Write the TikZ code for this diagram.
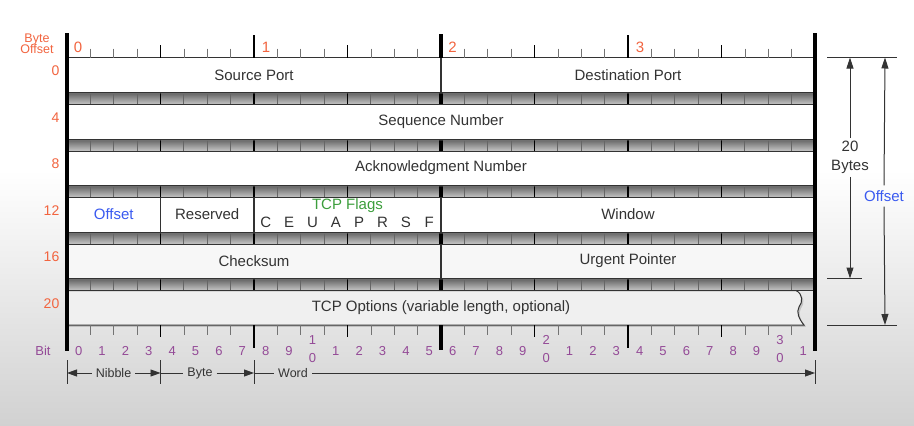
\documentclass[tikz,border=0pt]{standalone}
\usepackage{fontspec}
\setmainfont{Liberation Sans}
\usetikzlibrary{arrows.meta,shadows}

\definecolor{offorange}{HTML}{F2643F}
\definecolor{bitpurple}{HTML}{944A97}
\definecolor{flaggreen}{HTML}{3C9E3C}
\definecolor{offblue}{HTML}{3A5AF0}
\definecolor{ink}{HTML}{333333}

\tikzset{
  fieldfont/.style={font=\fontsize{15}{18}\selectfont, text=ink},
  field/.style={fieldfont, inner sep=0pt},
  rowbox/.style={draw=ink, line width=1pt, fill=white,
    drop shadow={shadow xshift=1.8pt, shadow yshift=-1.8pt, opacity=0.35}},
  bittick/.style={line width=0.7pt, draw=black!55},
  bandtick/.style={line width=0.9pt, draw=black!60},
  nibtick/.style={line width=1.7pt, draw=black},
  bytetick/.style={line width=2.5pt, draw=black},
  midtick/.style={line width=3.8pt, draw=black},
  edgeline/.style={line width=3.8pt, draw=black},
  offnum/.style={font=\fontsize{14}{16}\selectfont, text=offorange, inner sep=0pt, anchor=east},
  bytenum/.style={font=\fontsize{15}{16}\selectfont, text=offorange, inner sep=0pt},
  bitnum/.style={font=\fontsize{13}{14}\selectfont, text=bitpurple, inner sep=0pt},
  dimlabel/.style={font=\fontsize{12.5}{14}\selectfont, text=ink, inner xsep=4pt, inner ysep=0pt},
  dimline/.style={draw=ink, line width=0.9pt},
  dimarrow/.style={dimline, -{Triangle[length=10pt,width=7pt]}},
  sizearrow/.style={draw=ink, line width=1pt, -{Triangle[length=11pt,width=7pt]}},
}

\begin{document}
\begin{tikzpicture}[x=1pt,y=-1pt]
\useasboundingbox (0,0) rectangle (914,426);

% page background: white fading to light grey towards the bottom
\fill[white] (0,0) rectangle (914,426);
\shade[top color=white, bottom color=black!18] (0,170) rectangle (914,426);

% shaded separator bands between the rows, with bit ticks
\foreach \r in {0,...,4}{
  \pgfmathsetmacro\bt{92.5+46.5*\r}
  \pgfmathsetmacro\bb{\bt+12}
  \shade[top color=black!62, bottom color=black!22]
    (67,\bt) rectangle (815,\bb);
  \draw[ink, line width=1pt] (67,\bt) -- (815,\bt) (67,\bb) -- (815,\bb);
  \foreach \k in {1,2,3,5,6,7,9,10,11,13,14,15,17,18,19,21,22,23,25,26,27,29,30,31}
    \draw[bandtick] (67+23.375*\k,\bt) -- (67+23.375*\k,\bb);
  \foreach \k in {4,12,20,28,8,24}
    \draw[nibtick] (67+23.375*\k,\bt) -- (67+23.375*\k,\bb);
  \draw[midtick] (441,\bt) -- (441,\bb);
}

% header rows
\node[rowbox, minimum width=748pt, minimum height=35pt, inner sep=0pt] (row0) at (441,75) {};
\node[rowbox, minimum width=748pt, minimum height=34.5pt, inner sep=0pt] (row4) at (441,121.75) {};
\node[rowbox, minimum width=748pt, minimum height=34.5pt, inner sep=0pt] (row8) at (441,168.25) {};
\node[rowbox, minimum width=748pt, minimum height=34.5pt, inner sep=0pt] (row12) at (441,214.75) {};
\node[rowbox, minimum width=748pt, minimum height=34.5pt, inner sep=0pt, fill=white!97!black] (row16) at (441,261.25) {};
\path[rowbox, fill=white!94!black] (67,290.5) -- (796,290.5)
  .. controls (803,294) and (803,302) .. (799,307)
  .. controls (796,312) and (799,319) .. (804,325) -- (67,325) -- cycle;

% field dividers
\draw[ink, line width=1.3pt] (441,57.5) -- (441,92.5);
\draw[ink, line width=1.3pt] (160.5,197.5) -- (160.5,232)
                             (254,197.5) -- (254,232)
                             (441,197.5) -- (441,232);
\draw[ink, line width=1.3pt] (441,244) -- (441,278.5);

% top ruler
\foreach \k in {1,2,3,5,6,7,9,10,11,13,14,15,17,18,19,21,22,23,25,26,27,29,30,31}
  \draw[bittick] (67+23.375*\k,48.5) -- (67+23.375*\k,57.5);
\foreach \k in {4,12,20,28}
  \draw[nibtick] (67+23.375*\k,45) -- (67+23.375*\k,57.5);
\draw[bytetick] (254,35) -- (254,57.5) (628,35) -- (628,57.5);
\draw[midtick] (441,34) -- (441,57.5);

% bottom ruler
\foreach \k in {1,2,3,5,6,7,9,10,11,13,14,15,17,18,19,21,22,23,25,26,27,29,30,31}
  \draw[bittick] (67+23.375*\k,325) -- (67+23.375*\k,334.5);
\foreach \k in {4,12,20,28}
  \draw[nibtick] (67+23.375*\k,325) -- (67+23.375*\k,337);
\draw[bytetick] (254,325) -- (254,348) (628,325) -- (628,348);
\draw[midtick] (441,325) -- (441,350);

% outer edges
\draw[edgeline] (67,33) -- (67,351);
\draw[edgeline] (815,33) -- (815,351);

% field names
\node[field] (sport) at (254,75) {Source Port};
\node[field] (dport) at (628,75) {Destination Port};
\node[field] (seq) at (441,121.5) {Sequence Number};
\node[field] (ack) at (441,168) {Acknowledgment Number};
\node[field, text=offblue] (doff) at (113.75,214.5) {Offset};
\node[field] (resv) at (207.25,214.5) {Reserved};
\node[field, text=flaggreen] (flags) at (347.5,206) {TCP Flags};
\foreach \f [count=\i from 0] in {C,E,U,A,P,R,S,F}
  \node[field] (flag\i) at (67+23.375*8.5+23.375*\i,222.5) {\f};
\node[field] (win) at (628,214.5) {Window};
\node[field] (csum) at (254,261) {Checksum};
\node[field] (urg) at (628,261) {Urgent Pointer};
\node[field] (opts) at (441,308) {TCP Options (variable length, optional)};

% byte offsets
\node[font=\fontsize{12.5}{14}\selectfont, text=offorange, align=center, inner sep=0pt] (boff) at (37,44) {Byte\\[-2.5pt]Offset};
\node[offnum] (o0) at (59.5,71) {0};
\node[offnum] (o4) at (59.5,117.5) {4};
\node[offnum] (o8) at (59.5,164) {8};
\node[offnum] (o12) at (59.5,210.5) {12};
\node[offnum] (o16) at (59.5,257) {16};
\node[offnum] (o20) at (59.5,303.5) {20};

% byte numbers on the top ruler
\node[bytenum] (b0) at (78,47) {0};
\node[bytenum] (b1) at (266,47) {1};
\node[bytenum] (b2) at (452.5,47) {2};
\node[bytenum] (b3) at (640,47) {3};

% bit numbers
\node[bitnum] (bitlbl) at (43,351) {Bit};
\foreach \k in {0,...,31}{
  \pgfmathtruncatemacro\d{mod(\k,10)}
  \ifnum\k>0 \ifnum\d=0
    \pgfmathtruncatemacro\t{\k/10}
    \node[bitnum] (bit\k a) at (67+23.375*\k+11.69,340) {\t};
    \node[bitnum] (bit\k) at (67+23.375*\k+11.69,358) {0};
  \else
    \node[bitnum] (bit\k) at (67+23.375*\k+11.69,351) {\d};
  \fi\else
    \node[bitnum] (bit\k) at (67+23.375*\k+11.69,351) {\d};
  \fi
}

% nibble / byte / word span
\draw[dimline] (67,360) -- (67,384) (160.5,360) -- (160.5,384)
               (254,360) -- (254,384) (815,360) -- (815,384);
\coordinate (d0) at (67,373);
\coordinate (d1) at (160.5,373);
\coordinate (d2) at (254,373);
\coordinate (d3) at (815,373);
\node[dimlabel] (nib) at (113.5,373) {Nibble};
\node[dimlabel] (byt) at (200,373) {Byte};
\node[dimlabel] (wrd) at (293,373) {Word};
\draw[dimarrow] (nib.west) -- (d0);
\draw[dimarrow] (nib.east) -- (d1);
\draw[dimline] (d1) -- (byt.west);
\draw[dimarrow] (byt.east) -- (d2);
\draw[dimline] (d2) -- (wrd.west);
\draw[dimarrow] (wrd.east) -- (d3);

% header size markers
\draw[ink, line width=1pt] (827,57.5) -- (897,57.5)
                           (827,278.5) -- (862,278.5)
                           (827,325) -- (897,325);
\coordinate (hTop20) at (850,57.5);
\coordinate (hBot20) at (850,278.5);
\coordinate (hTopOff) at (885,57.5);
\coordinate (hBotOff) at (885,325);
\node[field, align=center, inner ysep=3pt] (twenty) at (850,157.5) {20\\[1pt]Bytes};
\node[field, text=offblue, inner ysep=5pt] (hoff) at (884,196) {Offset};
\draw[sizearrow] (twenty.north) -- (hTop20);
\draw[sizearrow] (twenty.south) -- (hBot20);
\draw[sizearrow] (hoff.north) -- (hTopOff);
\draw[sizearrow] (hoff.south) -- (hBotOff);
\end{tikzpicture}
\end{document}
